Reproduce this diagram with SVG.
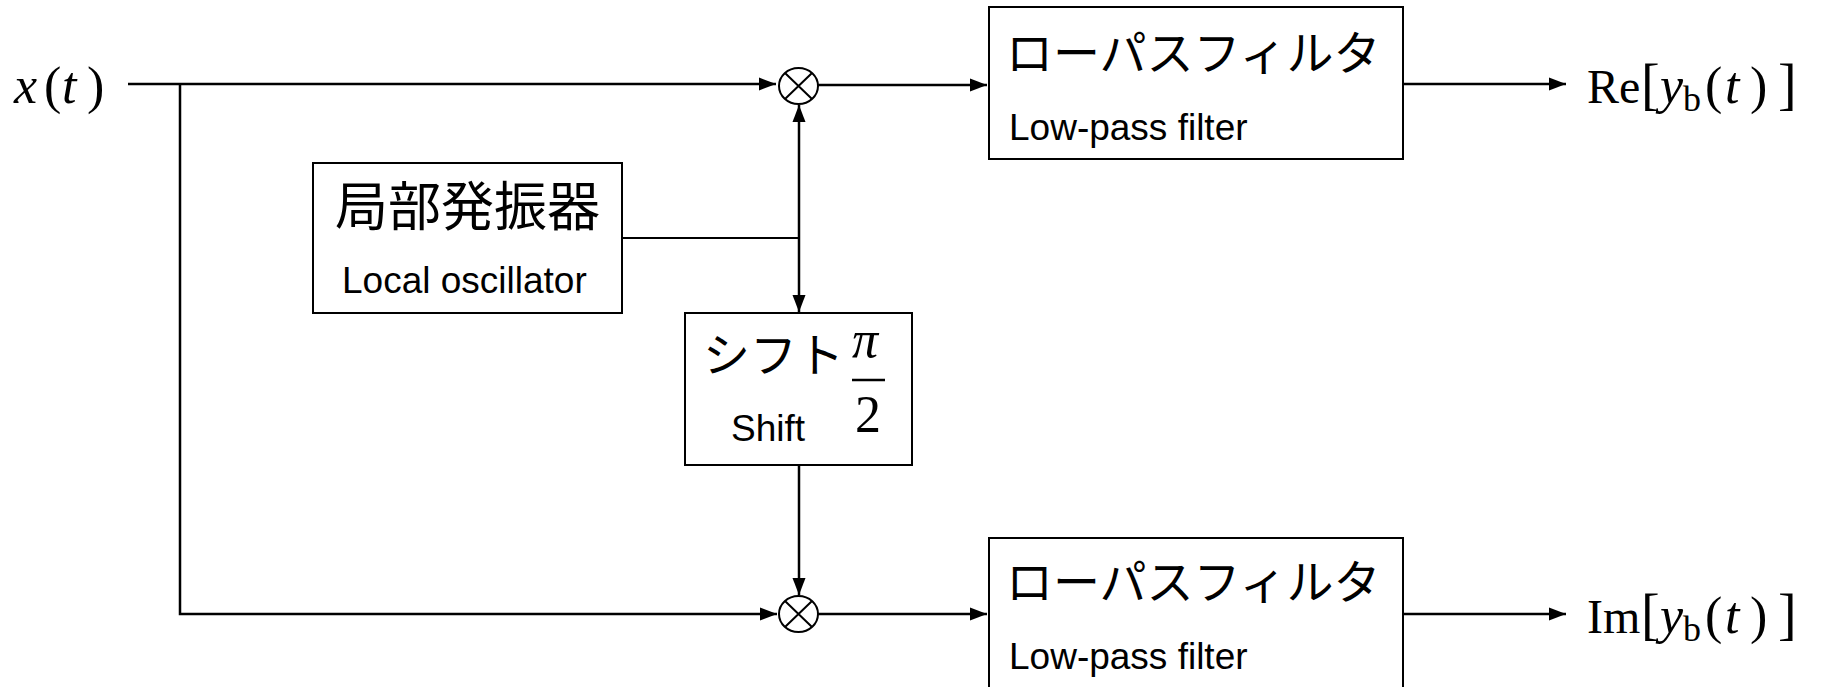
<svg xmlns="http://www.w3.org/2000/svg" width="1822" height="687" viewBox="0 0 1822 687">
<style>
.box{fill:#fff;stroke:#000;stroke-width:2}
.jp{font-family:"Noto Sans CJK JP","Noto Sans CJK SC",sans-serif;fill:#000}
.en{font-family:"Liberation Sans",Arial,sans-serif;font-size:37px;fill:#000}
.m{font-family:"Liberation Serif","Times New Roman",serif;font-size:52px;fill:#000}
.it{font-style:italic}
.br{font-size:56px}
.sub{font-size:36px}
.w{fill:none;stroke:#000;stroke-width:2.5}
.t{fill:none;stroke:#000;stroke-width:2}
.mix{fill:#fff;stroke:#000;stroke-width:2}
</style>
<defs>
<marker id="ah" markerUnits="userSpaceOnUse" markerWidth="18" markerHeight="16" viewBox="0 0 18 16" refX="17" refY="8" orient="auto">
<path d="M0,1.5 L17,8 L0,14.5 Z" fill="#000"/>
</marker>
</defs>

<g id="connectors">
<path class="w" d="M128,84 H776" marker-end="url(#ah)"/>
<path class="w" d="M180,84 V614 H777" marker-end="url(#ah)"/>
<path class="w" d="M817,85 H987" marker-end="url(#ah)"/>
<path class="w" d="M817,614 H987" marker-end="url(#ah)"/>
<path class="w" d="M1403,84 H1566" marker-end="url(#ah)"/>
<path class="w" d="M1403,614 H1566" marker-end="url(#ah)"/>
<path class="t" d="M622,238 H799"/>
<path class="w" d="M799,238 V105" marker-end="url(#ah)"/>
<path class="w" d="M799,238 V312" marker-end="url(#ah)"/>
<path class="w" d="M799,465 V595" marker-end="url(#ah)"/>
</g>

<g id="input">
<text class="m" y="103"><tspan class="it" x="14" textLength="26">x</tspan><tspan x="44">(</tspan><tspan class="it" x="62">t</tspan><tspan x="87">)</tspan></text>
</g>

<g id="mixer-top">
<ellipse class="mix" cx="798.5" cy="86" rx="19.5" ry="18"/>
<path class="t" d="M785,73 L812,99 M812,73 L785,99"/>
</g>

<g id="mixer-bottom">
<ellipse class="mix" cx="798.5" cy="614" rx="19.5" ry="18"/>
<path class="t" d="M785,601 L812,627 M812,601 L785,627"/>
</g>

<g id="local-oscillator">
<rect class="box" x="313" y="163" width="309" height="150"/>
<text class="jp" x="335" y="226" font-size="53">局部発振器</text>
<text class="en" x="342" y="293" font-size="38">Local oscillator</text>
</g>

<g id="shift">
<rect class="box" x="685" y="313" width="227" height="152"/>
<text class="jp" x="703" y="372" font-size="47">シフト</text>
<text class="en" x="731" y="441">Shift</text>
<text class="m it" x="852" y="357" font-size="50">π</text>
<line x1="852" y1="380" x2="885" y2="380" stroke="#000" stroke-width="2.5"/>
<text class="m" x="855" y="432" font-size="50">2</text>
</g>

<g id="lpf-top">
<rect class="box" x="989" y="7" width="414" height="152"/>
<text class="jp" x="1006" y="70" font-size="47">ローパスフィルタ</text>
<text class="en" x="1009" y="140">Low-pass filter</text>
</g>

<g id="lpf-bottom">
<rect class="box" x="989" y="538" width="414" height="160"/>
<text class="jp" x="1006" y="599" font-size="47">ローパスフィルタ</text>
<text class="en" x="1009" y="669">Low-pass filter</text>
</g>

<g id="out-re">
<text class="m" y="103"><tspan x="1587" font-size="48">Re</tspan><tspan class="br" x="1641">[</tspan><tspan class="it" x="1660">y</tspan><tspan class="sub" x="1683" dy="8">b</tspan><tspan x="1705" dy="-8">(</tspan><tspan class="it" x="1725">t</tspan><tspan x="1750">)</tspan><tspan class="br" x="1778">]</tspan></text>
</g>

<g id="out-im">
<text class="m" y="633"><tspan x="1587" font-size="48">Im</tspan><tspan class="br" x="1641">[</tspan><tspan class="it" x="1660">y</tspan><tspan class="sub" x="1683" dy="8">b</tspan><tspan x="1705" dy="-8">(</tspan><tspan class="it" x="1725">t</tspan><tspan x="1750">)</tspan><tspan class="br" x="1778">]</tspan></text>
</g>
</svg>
